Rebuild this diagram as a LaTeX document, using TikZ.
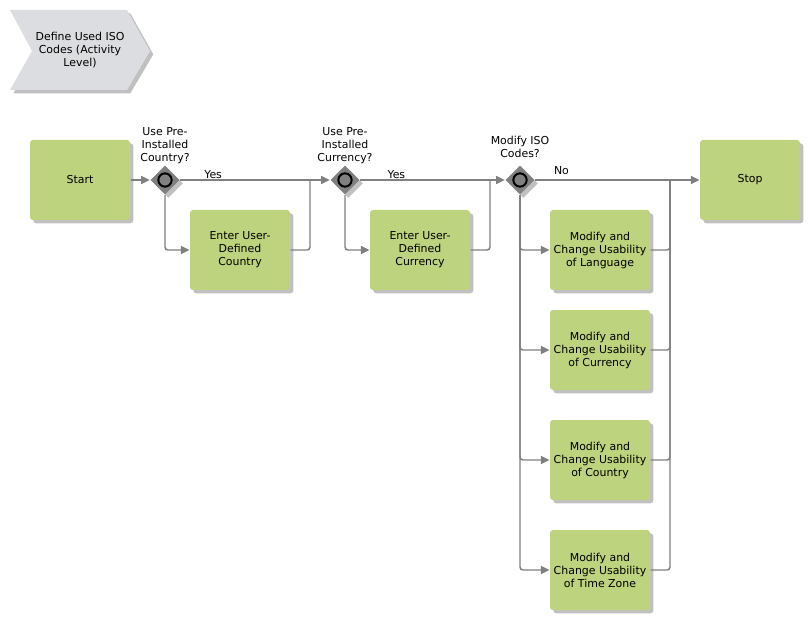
\documentclass[tikz,border=0pt]{standalone}
\usepackage{fontspec}
\setmainfont{DejaVu Sans}
\usetikzlibrary{arrows.meta,shadows,shapes.geometric}

\definecolor{boxgreen}{RGB}{189,211,125}
\definecolor{linegray}{RGB}{128,128,128}
\definecolor{chevgray}{RGB}{220,221,224}

\tikzset{every picture/.style={line width=0.75pt}}
\tikzset{
  txt/.style={font=\fontsize{8.2}{9.75}\selectfont},
  boxshadow/.style={drop shadow={shadow xshift=2.5pt,shadow yshift=-2.5pt,fill=black!45,opacity=0.55}},
  task/.style={txt,fill=boxgreen,rounded corners=2.25pt,minimum width=75pt,minimum height=60pt,align=center,inner sep=0pt,boxshadow},
  gate/.style={diamond,fill=linegray,minimum width=22pt,minimum height=22pt,inner sep=0pt,boxshadow},
  ring/.style={circle,draw=black,line width=1.5pt,fill=linegray,minimum size=10pt,inner sep=0pt},
  lbl/.style={txt,align=center,inner sep=0.75pt},
  flow/.style={draw=linegray,line width=1.1pt,rounded corners=2.25pt,-{Triangle[length=6.5pt,width=6pt]}},
  merge/.style={draw=linegray,line width=1.1pt,rounded corners=2.25pt}
}

\begin{document}
\begin{tikzpicture}[x=0.75pt,y=0.75pt,yscale=-1,xscale=1]
\useasboundingbox (0,0) rectangle (810,620);

%Shape: Chevron
\fill [chevgray,boxshadow] (10,10) -- (127,10) -- (150,51) -- (127,90) -- (10,90) -- (32,51) -- cycle ;
\node [lbl] (lane) at (80,50) {Define Used ISO\\Codes (Activity\\Level)};

% Tasks
\node [task] (start) at (80,180) {Start};
\node [task] (usercountry) at (240,250) {Enter User-\\Defined\\Country};
\node [task] (usercurrency) at (420,250) {Enter User-\\Defined\\Currency};
\node [task] (stop) at (750,180) {Stop};
\node [task] (modlang) at (600,250) {Modify and\\Change Usability\\of Language};
\node [task] (modcur) at (600,350) {Modify and\\Change Usability\\of Currency};
\node [task] (modcountry) at (600,460) {Modify and\\Change Usability\\of Country};
\node [task] (modzone) at (600,570) {Modify and\\Change Usability\\of Time Zone};

% Gateways
\node [gate] (gcountry) at (165,180) {};
\node [ring] (gcountryring) at (gcountry) {};
\node [gate] (gcurrency) at (345,180) {};
\node [ring] (gcurrencyring) at (gcurrency) {};
\node [gate] (giso) at (520,180) {};
\node [ring] (gisoring) at (giso) {};

% Gateway labels
\node [lbl] (qcountry) at (165,146) {Use Pre-\\Installed\\Country?};
\node [lbl] (qcurrency) at (345,146) {Use Pre-\\Installed\\Currency?};
\node [lbl] (qiso) at (520,147) {Modify ISO\\Codes?};

% Joints
\coordinate (jcurrency) at (310,180);
\coordinate (jiso) at (490,180);
\coordinate (jstop) at (670,180);

% Connectors
\draw [flow] (start) -- (gcountry);
\draw [flow] (gcountry) -- node [lbl,pos=0.22,above=0pt] (yescountry) {Yes} (gcurrency);
\draw [flow] (gcountry.south) |- (usercountry.west);
\draw [merge] (usercountry.east) -| (jcurrency);
\draw [flow] (gcurrency) -- node [lbl,pos=0.25,above=0pt] (yescurrency) {Yes} (giso);
\draw [flow] (gcurrency.south) |- (usercurrency.west);
\draw [merge] (usercurrency.east) -| (jiso);
\draw [flow] (giso) -- node [lbl,pos=0.16,above=3pt] (noiso) {No} (stop);
\foreach \m in {modlang,modcur,modcountry,modzone}{
  \draw [flow] (giso.south) |- (\m.west);
  \draw [merge] (\m.east) -| (jstop);
}

\end{tikzpicture}
\end{document}
